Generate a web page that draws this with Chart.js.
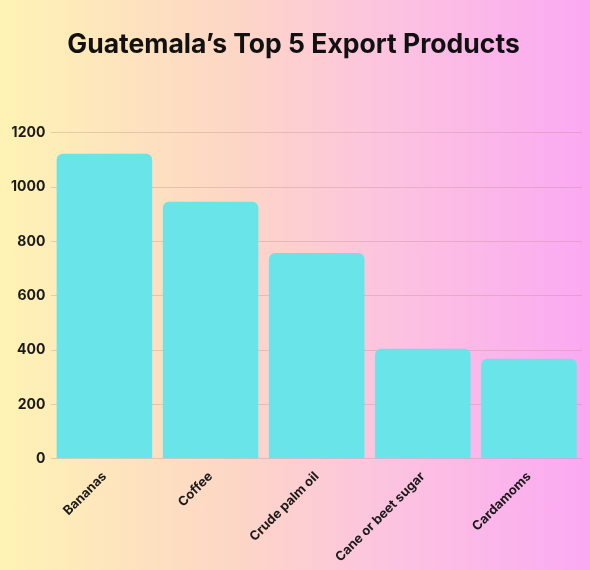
<!DOCTYPE html>
<html>
<head>
<meta charset="utf-8">
<script src="https://cdn.jsdelivr.net/npm/chart.js@4.4.1/dist/chart.umd.min.js"></script>
<style>
  html, body { margin: 0; padding: 0; }
  body {
    width: 590px; height: 570px; overflow: hidden;
    background: linear-gradient(to right, #fef3b4 0%, #fdd6c6 40%, #fcc4df 65%, #fba9f3 100%);
  }
  #wrap { width: 590px; height: 570px; }
</style>
</head>
<body>
<div id="wrap"><canvas id="exportChart"></canvas></div>
<script>
const products = ['Bananas', 'Coffee', 'Crude palm oil', 'Cane or beet sugar', 'Cardamoms'];
const exportValues = [1123, 946, 758, 405, 368];
const yTicks = [0, 200, 400, 600, 800, 1000, 1200];

const ctx = document.getElementById('exportChart').getContext('2d');
const chart = new Chart(ctx, {
    type: 'bar',
    data: {
        labels: products,
        datasets: [{
            label: 'Exports',
            data: exportValues,
            backgroundColor: '#69e4e8',
            borderWidth: 0,
            borderRadius: { topLeft: 6, topRight: 6, bottomLeft: 0, bottomRight: 0 },
            borderSkipped: 'bottom',
            barPercentage: 0.9,
            categoryPercentage: 1.0
        }]
    },
    options: {
        responsive: true,
        maintainAspectRatio: false,
        animation: false,
        layout: { padding: { left: 5, right: 8, top: 0, bottom: 3 } },
        plugins: {
            legend: { display: false },
            tooltip: { enabled: false },
            title: {
                display: true,
                text: 'Guatemala\u2019s Top 5 Export Products',
                color: '#111111',
                font: { family: 'Inter', size: 26.5, weight: 'bold' },
                padding: { top: 29, bottom: 72 }
            }
        },
        scales: {
            x: {
                grid: { display: false },
                border: { display: false },
                ticks: {
                    color: '#1a1a1a',
                    font: { family: 'Inter', size: 13, weight: 'bold' },
                    maxRotation: 45,
                    minRotation: 45,
                    padding: 2
                }
            },
            y: {
                min: 0,
                max: 1200,
                afterBuildTicks: axis => { axis.ticks = yTicks.map(v => ({ value: v })); },
                grid: { color: 'rgba(190, 140, 140, 0.35)', lineWidth: 1, drawTicks: false },
                border: { display: false },
                ticks: {
                    color: '#1a1a1a',
                    font: { family: 'Inter', size: 14, weight: 'bold' },
                    padding: 6,
                    callback: v => String(v)
                }
            }
        }
    }
});
</script>
</body>
</html>
